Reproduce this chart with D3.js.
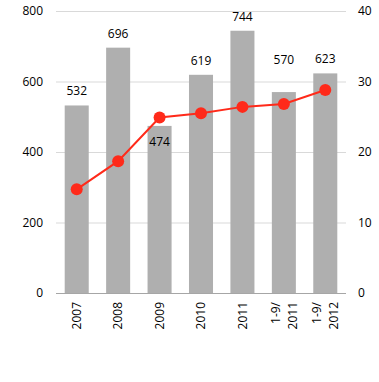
<!DOCTYPE html>
<html><head><meta charset="utf-8">
<script src="https://cdn.jsdelivr.net/npm/d3@7"></script>
<style>body{margin:0;background:#fff}svg{display:block}text{font-family:"Open Sans","Noto Sans",sans-serif;font-size:12px;fill:#000}</style>
</head><body><svg id="c" width="379" height="382"></svg>
<script>
const categories = ["2007","2008","2009","2010","2011","1-9/\n2011","1-9/\n2012"];
const barValues = [532,696,474,619,744,570,623];
const lineValues = [14.7,18.7,24.9,25.5,26.4,26.8,28.8];
const leftTicks = [0,200,400,600,800];
const rightTicks = [0,10,20,30,40];

const svg = d3.select("#c");
const m = {l:56, r:346, t:11, b:293};
const x = d3.scaleBand().domain(categories).range([m.l,m.r]).paddingInner(0.42).paddingOuter(0.21);
const yL = d3.scaleLinear().domain([0,800]).range([m.b,m.t]);
const yR = d3.scaleLinear().domain([0,40]).range([m.b,m.t]);

svg.append("g").selectAll("line").data(leftTicks.filter(d=>d>0)).join("line")
  .attr("x1",m.l).attr("x2",m.r).attr("y1",d=>yL(d)+0.5).attr("y2",d=>yL(d)+0.5)
  .attr("stroke","#d9d9d9").attr("stroke-width",1);

svg.append("g").selectAll("rect").data(barValues).join("rect")
  .attr("x",(d,i)=>x(categories[i])).attr("width",x.bandwidth())
  .attr("y",d=>yL(d)).attr("height",d=>yL(0)-yL(d)).attr("fill","#afafaf");

svg.append("line").attr("x1",m.l).attr("x2",m.r).attr("y1",yL(0)+0.5).attr("y2",yL(0)+0.5)
  .attr("stroke","#a6a6a6").attr("stroke-width",1);

svg.append("g").selectAll("text").data(leftTicks).join("text")
  .attr("x",43).attr("y",d=>yL(d)).attr("dy","0.35em").attr("text-anchor","end").text(d=>d);
svg.append("g").selectAll("text").data(rightTicks).join("text")
  .attr("x",358).attr("y",d=>yR(d)).attr("dy","0.35em").attr("text-anchor","start").text(d=>d);

const cx = (d,i)=>x(categories[i])+x.bandwidth()/2;
svg.append("path").datum(lineValues)
  .attr("d",d3.line().x(cx).y(d=>yR(d)))
  .attr("fill","none").attr("stroke","#ff2a1a").attr("stroke-width",2);
svg.append("g").selectAll("circle").data(lineValues).join("circle")
  .attr("cx",cx).attr("cy",d=>yR(d)).attr("r",6).attr("fill","#ff2a1a");

// data labels (2009 placed inside bar, 1-9/2011 lifted above the line)
svg.append("g").selectAll("text").data(barValues).join("text")
  .attr("x",cx).attr("y",(d,i)=> i===2 ? yL(d)+20 : (i===5 ? yL(d)-28 : yL(d)-10))
  .attr("text-anchor","middle").text(d=>d);

const xl = svg.append("g").selectAll("g").data(categories).join("g")
  .attr("transform",d=>`translate(${x(d)+x.bandwidth()/2},302) rotate(-90)`);
xl.each(function(d){
  const lines = d.split("\n");
  const g = d3.select(this);
  lines.forEach((ln,k)=>{
    const off = (k-(lines.length-1)/2)*17;
    g.append("text").attr("x",0).attr("y",off).attr("dy","0.35em").attr("text-anchor","end").text(ln);
  });
});
</script></body></html>
